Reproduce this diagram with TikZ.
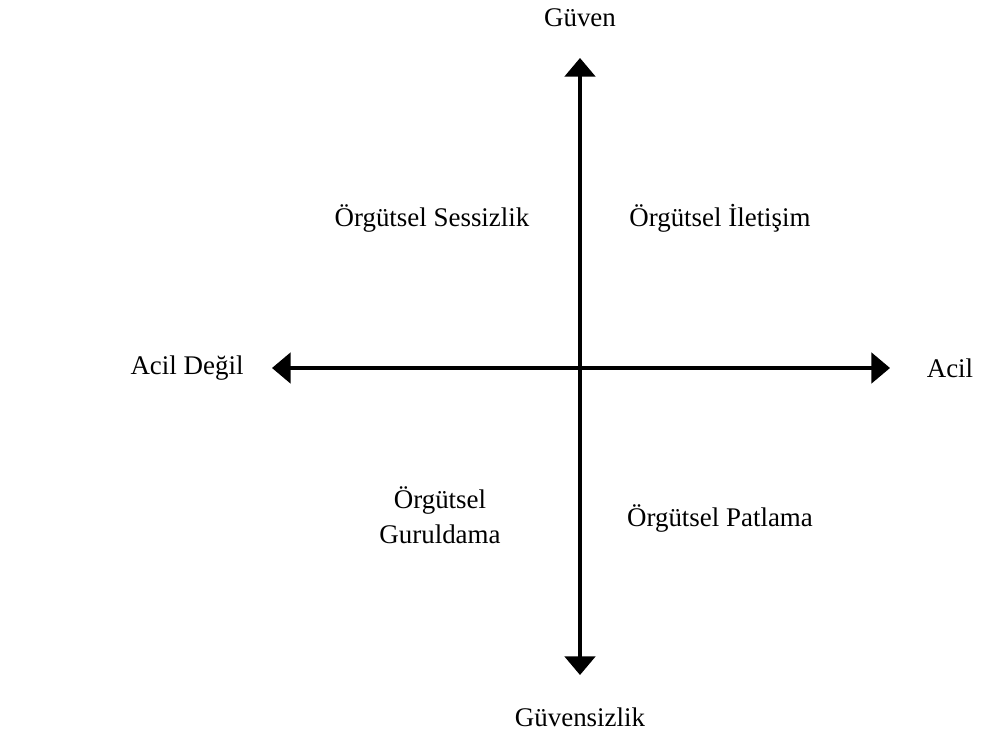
\documentclass[tikz,border=0pt]{standalone}
\usepackage{fontspec}
\setmainfont{Liberation Serif}
\usetikzlibrary{arrows.meta}
\tikzset{
  eksen/.style={line width=2.3pt,{Triangle[width=23pt,length=14pt]}-{Triangle[width=23pt,length=14pt]}},
  etiket/.style={font=\fontsize{20.2}{26}\selectfont,inner sep=0pt,align=center}
}
\begin{document}
\begin{tikzpicture}[x=0.75pt,y=-0.75pt]
\useasboundingbox (0,0) rectangle (986,735);
\pgfmathsetmacro{\kox}{580}
\pgfmathsetmacro{\koy}{368}
% eksen uclari
\coordinate (ust) at (\kox,58);
\coordinate (alt) at (\kox,675);
\coordinate (sol) at (272,\koy);
\coordinate (sag) at (890,\koy);
\draw[eksen](alt)--(ust);
\draw[eksen](sol)--(sag);
% eksen etiketleri
\node[etiket](guven) at (\kox,18){Güven};
\node[etiket](guvensizlik) at (\kox,717){Güvensizlik};
\node[etiket](acildegil) at (187,\koy){Acil Değil};
\node[etiket](acil) at (950,\koy){Acil};
% bolgeler
\foreach \kx/\ky/\ad/\yazi in {432/218/sessizlik/{Örgütsel Sessizlik},720/218/iletisim/{Örgütsel İletişim},440/515/guruldama/{Örgütsel\\Guruldama},720/518/patlama/{Örgütsel Patlama}}{\node[etiket](\ad) at (\kx,\ky){\yazi};}
\end{tikzpicture}
\end{document}
